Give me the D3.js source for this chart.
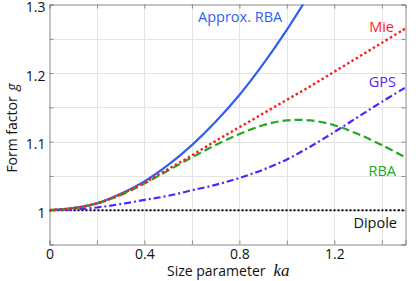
<!DOCTYPE html>
<html><head><meta charset="utf-8">
<script src="https://cdn.jsdelivr.net/npm/d3@7"></script>
<style>body{margin:0;background:#fff}svg{display:block}text{font-family:"Open Sans",sans-serif}</style>
</head><body><svg id="c" width="416" height="281"></svg>
<script>
const ka = [0,0.1,0.2,0.3,0.4,0.5,0.6,0.7,0.8,0.9,1.0,1.1,1.2,1.3,1.4,1.5];
const approxRBA = [1,1.003,1.010,1.024,1.042,1.066,1.095,1.129,1.168,1.213,1.263,1.318,null,null,null,null];
const mie = [1,1.003,1.010,1.023,1.040,1.060,1.080,1.101,1.121,1.141,1.161,1.181,1.202,1.223,1.244,1.265];
const gps = [1,1.001,1.004,1.009,1.015,1.021,1.029,1.037,1.047,1.059,1.074,1.093,1.114,1.136,1.158,1.179];
const rba = [1,1.003,1.010,1.022,1.039,1.058,1.077,1.095,1.111,1.124,1.131,1.131,1.124,1.111,1.095,1.077];
const dipole = [1,1,1,1,1,1,1,1,1,1,1,1,1,1,1,1];
const xTicks = [0,0.2,0.4,0.6,0.8,1.0,1.2,1.4];
const xLabels = [0,0.4,0.8,1.2];
const yTicks = [0.95,1.0,1.05,1.1,1.15,1.2,1.25,1.3];
const yLabels = [1,1.1,1.2,1.3];

const svg = d3.select("#c");
const L=49.5, R=405.5, T=4.5, B=244.5;
const x = d3.scaleLinear().domain([0,1.5]).range([L,R]);
const y = d3.scaleLinear().domain([0.95,1.3]).range([B,T]);

svg.append("defs").append("clipPath").attr("id","clip").append("rect")
  .attr("x",L).attr("y",T).attr("width",R-L).attr("height",B-T);

// grid
const g = svg.append("g");
g.selectAll(".gx").data(xTicks.filter(d=>d>0)).join("line")
  .attr("x1",d=>Math.round(x(d))+0.5).attr("x2",d=>Math.round(x(d))+0.5).attr("y1",T).attr("y2",B)
  .attr("stroke","#e4e4e4").attr("stroke-width",1);
g.selectAll(".gy").data(yTicks.filter(d=>d>0.95&&d<1.3)).join("line")
  .attr("y1",d=>Math.round(y(d))+0.5).attr("y2",d=>Math.round(y(d))+0.5).attr("x1",L).attr("x2",R)
  .attr("stroke","#e4e4e4").attr("stroke-width",1);

// axes (box with inward ticks)
const axCol="#8a8a8a";
const axB = d3.axisBottom(x).tickValues(xTicks).tickSize(-4).tickFormat(d=>xLabels.includes(d)?d3.format("")(d):"").tickPadding(5);
const axT = d3.axisTop(x).tickValues(xTicks).tickSize(-4).tickFormat("");
const axLf = d3.axisLeft(y).tickValues(yTicks).tickSize(-4).tickFormat(d=>yLabels.some(v=>Math.abs(v-d)<1e-9)?d3.format("")(+d.toFixed(2)):"").tickPadding(4);
const axRt = d3.axisRight(y).tickValues(yTicks).tickSize(-4).tickFormat("");
function style(sel){sel.select(".domain").attr("stroke",axCol);sel.selectAll(".tick line").attr("stroke",axCol);
  sel.selectAll(".tick text").attr("fill","#111").style("font-size","14px").style("font-family","'Open Sans',sans-serif");}
svg.append("g").attr("transform",`translate(0,${B})`).call(axB).call(style);
svg.append("g").attr("transform",`translate(0,${T})`).call(axT).call(style);
svg.append("g").attr("transform",`translate(${L},0)`).call(axLf).call(style).selectAll(".tick text").attr("dy","0.52em");
svg.append("g").attr("transform",`translate(${R},0)`).call(axRt).call(style);

// lines
const line = d3.line().defined(d=>d[1]!=null).x(d=>x(d[0])).y(d=>y(d[1])).curve(d3.curveCatmullRom);
const pts = arr => ka.map((k,i)=>[k,arr[i]]);
const plot = svg.append("g").attr("clip-path","url(#clip)");
const series = [
  {v:dipole, c:"#000000", w:2, dash:"2,2"},
  {v:approxRBA, c:"#2f5ef5", w:2.2, dash:null},
  {v:gps, c:"#5520ff", w:2.2, dash:"7,3,2,3"},
  {v:rba, c:"#23a620", w:2.2, dash:"8,4"},
  {v:mie, c:"#ff1a1a", w:2.4, dash:"2.4,2.6"}
];
series.forEach(s=>{
  plot.append("path").attr("d",line(pts(s.v))).attr("fill","none").attr("stroke",s.c)
    .attr("stroke-width",s.w).attr("stroke-dasharray",s.dash);
});

// labels
const lab = [
  {t:"Approx. RBA", x:198, y:22, c:"#2f5ef5", a:"start"},
  {t:"Mie", x:394, y:32, c:"#ff1a1a", a:"end"},
  {t:"GPS", x:396, y:87, c:"#5520ff", a:"end"},
  {t:"RBA", x:396, y:176, c:"#23a620", a:"end"},
  {t:"Dipole", x:397, y:228, c:"#111", a:"end"}
];
svg.selectAll(".lab").data(lab).join("text").attr("x",d=>d.x).attr("y",d=>d.y).attr("fill",d=>d.c)
  .attr("text-anchor",d=>d.a).style("font-size","14.5px").text(d=>d.t);

// axis titles
const xt = svg.append("text").attr("x",167).attr("y",276).attr("fill","#111").style("font-size","14px");
xt.append("tspan").text("Size parameter");
xt.append("tspan").attr("dx",8).style("font-family","'Liberation Serif',serif").style("font-style","italic").style("font-size","17px").text("ka");
const yt = svg.append("text").attr("transform","translate(17,128) rotate(-90)").attr("text-anchor","middle").attr("fill","#111").style("font-size","14px");
yt.append("tspan").text("Form factor ");
yt.append("tspan").attr("dx",2).style("font-style","italic").text("g");
</script></body></html>
